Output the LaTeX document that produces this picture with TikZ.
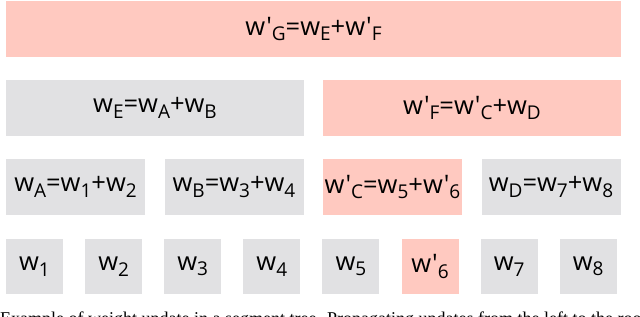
\documentclass[tikz,border=0pt]{standalone}
\usepackage{fontspec}
\newfontfamily\osans{Open Sans}
\newfontfamily\capfont{Liberation Serif}
\definecolor{boxgray}{RGB}{225,225,227}
\definecolor{boxpink}{RGB}{255,201,192}
\newcommand\sbx[1]{\raisebox{-5.5pt}{\fontsize{19}{19}\selectfont #1}}
\newcommand\pr{\char"27}
\tikzset{
  cell/.style={rectangle, inner sep=0pt, minimum height=56pt, text=black,
    font=\osans\fontsize{25.5}{25.5}\selectfont},
  plain/.style={cell, fill=boxgray},
  upd/.style={cell, fill=boxpink},
  leaf/.style={minimum width=57pt, minimum height=55pt},
}
\begin{document}
\begin{tikzpicture}[x=1pt,y=-1pt]
\useasboundingbox (0,0) rectangle (640,316);
\clip (0,0) rectangle (640,316);
% root
\node[upd, minimum width=615pt] (g) at (313.5,29) {w\pr\sbx{G}=w\sbx{E}+w\pr\sbx{F}};
% level 2
\node[plain, minimum width=298pt] (e) at (155,108) {w\sbx{E}=w\sbx{A}+w\sbx{B}};
\node[upd, minimum width=298pt] (f) at (472,108) {w\pr\sbx{F}=w\pr\sbx{C}+w\sbx{D}};
% level 3
\node[plain, minimum width=139pt] (a) at (75.5,187) {w\sbx{A}=w\sbx{1}+w\sbx{2}};
\node[plain, minimum width=139pt] (b) at (234,187) {w\sbx{B}=w\sbx{3}+w\sbx{4}};
\node[upd, minimum width=139pt] (c) at (392.5,187) {w\pr\sbx{C}=w\sbx{5}+w\pr\sbx{6}};
\node[plain, minimum width=139pt] (d) at (551,187) {w\sbx{D}=w\sbx{7}+w\sbx{8}};
% leaves
\node[plain, leaf] (l1) at (34.5,266.5) {w\sbx{1}};
\node[plain, leaf] (l2) at (113.6,266.5) {w\sbx{2}};
\node[plain, leaf] (l3) at (192.7,266.5) {w\sbx{3}};
\node[plain, leaf] (l4) at (271.8,266.5) {w\sbx{4}};
\node[plain, leaf] (l5) at (350.9,266.5) {w\sbx{5}};
\node[upd, leaf] (l6) at (430.0,266.5) {w\pr\sbx{6}};
\node[plain, leaf] (l7) at (509.1,266.5) {w\sbx{7}};
\node[plain, leaf] (l8) at (588.2,266.5) {w\sbx{8}};
% caption (cut off at the bottom edge, as in the reference)
\node[anchor=base west, inner sep=0pt, font=\capfont\fontsize{18}{18}\selectfont] (cap) at (0,324)
  {Example of weight update in a segment tree. Propagating updates from the left to the root.};
\end{tikzpicture}
\end{document}
